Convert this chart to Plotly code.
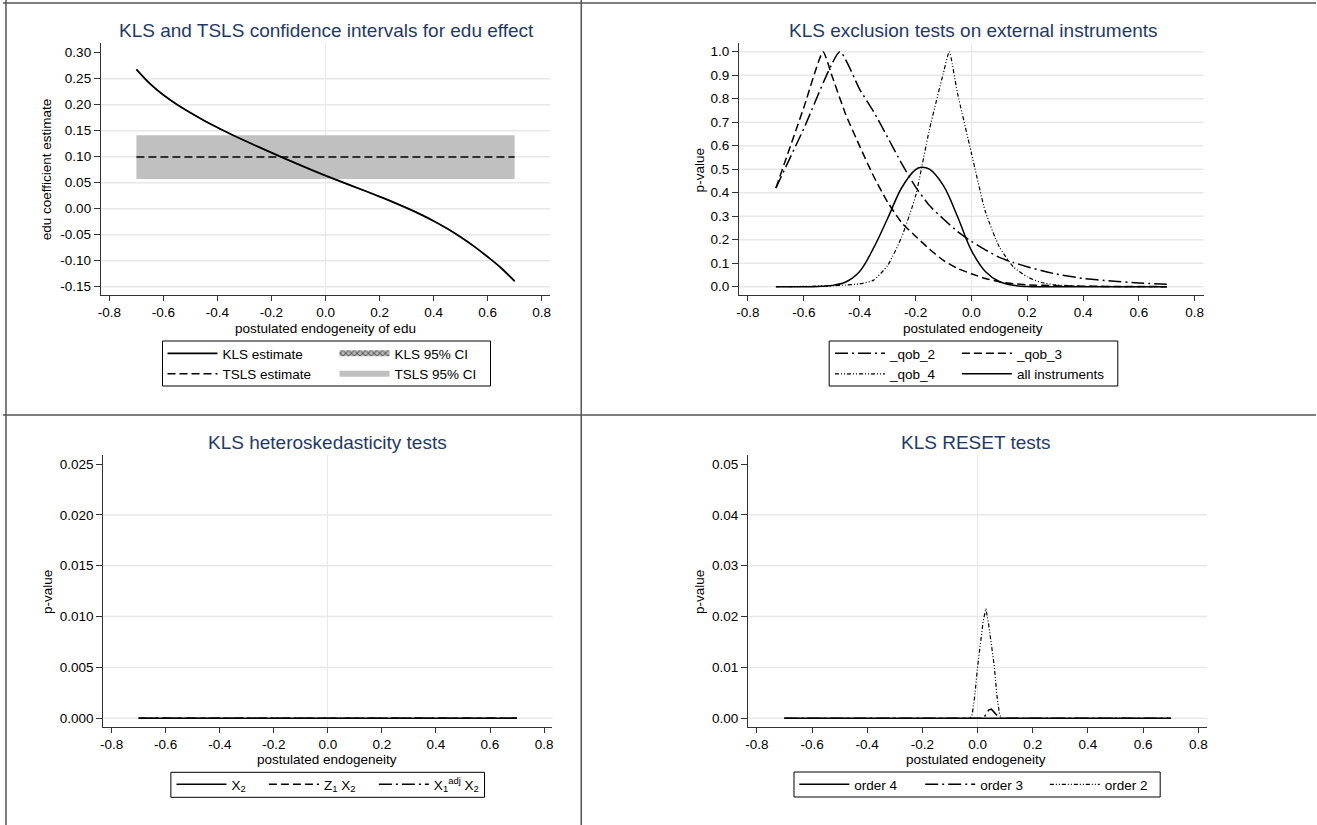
import plotly.graph_objects as go

W, H = 1317, 825
FONT = "Liberation Sans, Arial, sans-serif"
NAVY = "#1f3a68"
AX = "#333333"
GRID = "#e8e8e8"

# ---------------- data ----------------
# Panel 1: KLS and TSLS estimates
kls_x = [-0.70, -0.65, -0.60, -0.55, -0.50, -0.45, -0.40, -0.35, -0.30, -0.25, -0.20, -0.15, -0.10, -0.05,
         0.00, 0.05, 0.10, 0.15, 0.20, 0.25, 0.30, 0.35, 0.40, 0.45, 0.50, 0.55, 0.60, 0.65, 0.70]
kls_est = [0.2680, 0.2405, 0.2185, 0.2003, 0.1843, 0.1697, 0.1560, 0.1432, 0.1310, 0.1192, 0.1077, 0.0963,
           0.0851, 0.0742, 0.0637, 0.0535, 0.0435, 0.0335, 0.0233, 0.0127, 0.0015, -0.0105, -0.0236, -0.0381,
           -0.0544, -0.0725, -0.0925, -0.1140, -0.1395]
kls_ci_lo = [0.2665, 0.2390, 0.2170, 0.1988, 0.1828, 0.1682, 0.1545, 0.1417, 0.1295, 0.1177, 0.1062, 0.0948,
             0.0836, 0.0727, 0.0622, 0.0520, 0.0420, 0.0320, 0.0218, 0.0112, 0.0000, -0.0120, -0.0251, -0.0396,
             -0.0559, -0.0740, -0.0940, -0.1155, -0.1410]
kls_ci_hi = [0.2695, 0.2420, 0.2200, 0.2018, 0.1858, 0.1712, 0.1575, 0.1447, 0.1325, 0.1207, 0.1092, 0.0978,
             0.0866, 0.0757, 0.0652, 0.0550, 0.0450, 0.0350, 0.0248, 0.0142, 0.0030, -0.0090, -0.0221, -0.0366,
             -0.0529, -0.0710, -0.0910, -0.1125, -0.1380]
tsls_x = [-0.70, 0.70]
tsls_est = [0.0995, 0.0995]
tsls_lo = [0.057, 0.057]
tsls_hi = [0.141, 0.141]

# Panel 2: exclusion tests
qob2_x = [-0.70, -0.60, -0.471, -0.40, -0.35, -0.30, -0.25, -0.20, -0.15, -0.10, -0.05, 0.00, 0.05, 0.10,
          0.15, 0.20, 0.25, 0.30, 0.40, 0.50, 0.60, 0.70]
qob2_p = [0.42, 0.673, 1.0, 0.84, 0.745, 0.636, 0.525, 0.425, 0.345, 0.288, 0.235, 0.193, 0.157, 0.125,
          0.103, 0.085, 0.069, 0.055, 0.035, 0.024, 0.016, 0.010]
qob3_x = [-0.70, -0.60, -0.531, -0.50, -0.45, -0.40, -0.35, -0.30, -0.25, -0.20, -0.15, -0.10, -0.05, 0.00,
          0.05, 0.10, 0.15, 0.20, 0.30, 0.40, 0.50, 0.60, 0.70]
qob3_p = [0.42, 0.763, 1.0, 0.90, 0.733, 0.598, 0.47, 0.36, 0.273, 0.215, 0.16, 0.112, 0.078, 0.055,
          0.035, 0.021, 0.013, 0.008, 0.004, 0.002, 0.001, 0.001, 0.0]
qob4_x = [-0.70, -0.60, -0.50, -0.45, -0.40, -0.35, -0.30, -0.25, -0.20, -0.15, -0.10, -0.079, -0.05, 0.00,
          0.05, 0.10, 0.15, 0.20, 0.25, 0.30, 0.40, 0.50, 0.60, 0.70]
qob4_p = [0.0, 0.001, 0.004, 0.007, 0.012, 0.028, 0.09, 0.21, 0.385, 0.67, 0.91, 1.0, 0.826, 0.57,
          0.32, 0.17, 0.085, 0.042, 0.018, 0.008, 0.002, 0.001, 0.0, 0.0]
all_x = [-0.70, -0.60, -0.55, -0.50, -0.45, -0.40, -0.35, -0.30, -0.25, -0.20, -0.18, -0.15, -0.10, -0.05,
         0.00, 0.05, 0.10, 0.15, 0.20, 0.25, 0.30, 0.40, 0.50, 0.60, 0.70]
all_p = [0.0, 0.0, 0.001, 0.005, 0.02, 0.065, 0.165, 0.29, 0.42, 0.498, 0.508, 0.50, 0.43, 0.30,
         0.155, 0.065, 0.022, 0.006, 0.001, 0.0, 0.0, 0.0, 0.0, 0.0, 0.0]

# Panel 3: heteroskedasticity tests
het_x = [-0.7, -0.6, -0.5, -0.4, -0.3, -0.2, -0.1, 0.0, 0.1, 0.2, 0.3, 0.4, 0.5, 0.6, 0.7]
het_x2 = [0.0, 0.0, 0.0, 0.0, 0.0, 0.0, 0.0, 0.0, 0.0, 0.0, 0.0, 0.0, 0.0, 0.0, 0.0]
het_z1x2 = [0.0, 0.0, 0.0, 0.0, 0.0, 0.0, 0.0, 0.0, 0.0, 0.0, 0.0, 0.0, 0.0, 0.0, 0.0]
het_x1adjx2 = [0.0, 0.0, 0.0, 0.0, 0.0, 0.0, 0.0, 0.0, 0.0, 0.0, 0.0, 0.0, 0.0, 0.0, 0.0]

# Panel 4: RESET tests
ord4_x = [-0.7, -0.5, -0.3, -0.1, 0.0, 0.1, 0.3, 0.5, 0.7]
ord4_p = [0.0, 0.0, 0.0, 0.0, 0.0, 0.0, 0.0, 0.0, 0.0]
ord3_x = [-0.70, 0.00, 0.02, 0.03, 0.04, 0.05, 0.06, 0.07, 0.08, 0.70]
ord3_p = [0.0, 0.0, 0.0, 0.0007, 0.0016, 0.0018, 0.0012, 0.0004, 0.0, 0.0]
ord2_x = [-0.70, -0.03, -0.02, -0.01, 0.00, 0.01, 0.02, 0.03, 0.04, 0.05, 0.06, 0.07, 0.08, 0.09, 0.70]
ord2_p = [0.0, 0.0, 0.0005, 0.0045, 0.0101, 0.0150, 0.0190, 0.0216, 0.0185, 0.0145, 0.0105, 0.0045, 0.0006, 0.0, 0.0]

# ticks
x_ticks = [-0.8, -0.6, -0.4, -0.2, 0.0, 0.2, 0.4, 0.6, 0.8]
x_ticktext = ["-0.8", "-0.6", "-0.4", "-0.2", "0.0", "0.2", "0.4", "0.6", "0.8"]
y1_ticks = [-0.15, -0.10, -0.05, 0.00, 0.05, 0.10, 0.15, 0.20, 0.25, 0.30]
y1_text = ["-0.15", "-0.10", "-0.05", "0.00", "0.05", "0.10", "0.15", "0.20", "0.25", "0.30"]
y2_ticks = [0.0, 0.1, 0.2, 0.3, 0.4, 0.5, 0.6, 0.7, 0.8, 0.9, 1.0]
y2_text = ["0.0", "0.1", "0.2", "0.3", "0.4", "0.5", "0.6", "0.7", "0.8", "0.9", "1.0"]
y3_ticks = [0.0, 0.005, 0.010, 0.015, 0.020, 0.025]
y3_text = ["0.000", "0.005", "0.010", "0.015", "0.020", "0.025"]
y4_ticks = [0.0, 0.01, 0.02, 0.03, 0.04, 0.05]
y4_text = ["0.00", "0.01", "0.02", "0.03", "0.04", "0.05"]

# ---------------- figure ----------------
fig = go.Figure()

LW = 1.5
DASH = "8px,4px"
LONGDASHDOT = "13px,4px,2px,4px"
DASHDOTDOT = "4px,2px,1px,2px,1px,2px"

# Panel 1
fig.add_trace(go.Scatter(x=tsls_x + tsls_x[::-1], y=tsls_hi + tsls_lo[::-1], fill="toself",
                         fillcolor="#c0c0c0", mode="none", name="TSLS 95% CI",
                         legend="legend2", legendrank=2, xaxis="x", yaxis="y"))
fig.add_trace(go.Scatter(x=kls_x + kls_x[::-1], y=kls_ci_hi + kls_ci_lo[::-1], fill="toself",
                         fillcolor="#8c8c8c", mode="none", name="KLS 95% CI",
                         fillpattern=dict(shape="x", fgcolor="#000000", bgcolor="#bdbdbd", size=4, solidity=0.45),
                         legend="legend2", legendrank=1, xaxis="x", yaxis="y"))
fig.add_trace(go.Scatter(x=tsls_x, y=tsls_est, mode="lines", name="TSLS estimate",
                         line=dict(color="black", width=LW, dash=DASH),
                         legend="legend", legendrank=2, xaxis="x", yaxis="y"))
fig.add_trace(go.Scatter(x=kls_x, y=kls_est, mode="lines", name="KLS estimate",
                         line=dict(color="black", width=LW + 0.3, shape="spline", smoothing=1),
                         legend="legend", legendrank=1, xaxis="x", yaxis="y"))

# Panel 2
fig.add_trace(go.Scatter(x=qob2_x, y=qob2_p, mode="lines", name="_qob_2",
                         line=dict(color="black", width=LW, dash=LONGDASHDOT, shape="spline", smoothing=0.5),
                         legend="legend3", legendrank=1, xaxis="x2", yaxis="y2"))
fig.add_trace(go.Scatter(x=qob3_x, y=qob3_p, mode="lines", name="_qob_3",
                         line=dict(color="black", width=LW, dash=DASH, shape="spline", smoothing=0.5),
                         legend="legend4", legendrank=1, xaxis="x2", yaxis="y2"))
fig.add_trace(go.Scatter(x=qob4_x, y=qob4_p, mode="lines", name="_qob_4",
                         line=dict(color="black", width=1.2, dash=DASHDOTDOT, shape="spline", smoothing=0.5),
                         legend="legend3", legendrank=2, xaxis="x2", yaxis="y2"))
fig.add_trace(go.Scatter(x=all_x, y=all_p, mode="lines", name="all instruments",
                         line=dict(color="black", width=LW, shape="spline", smoothing=1),
                         legend="legend4", legendrank=2, xaxis="x2", yaxis="y2"))

# Panel 3
fig.add_trace(go.Scatter(x=het_x, y=het_x2, mode="lines", name="X<sub>2</sub>",
                         line=dict(color="black", width=LW), legend="legend5", xaxis="x3", yaxis="y3"))
fig.add_trace(go.Scatter(x=het_x, y=het_z1x2, mode="lines", name="Z<sub>1</sub> X<sub>2</sub>",
                         line=dict(color="black", width=LW, dash=DASH), legend="legend6", xaxis="x3", yaxis="y3"))
fig.add_trace(go.Scatter(x=het_x, y=het_x1adjx2, mode="lines", name="X<sub>1</sub><sup>adj</sup> X<sub>2</sub>",
                         line=dict(color="black", width=LW, dash=LONGDASHDOT), legend="legend7", xaxis="x3", yaxis="y3"))

# Panel 4
fig.add_trace(go.Scatter(x=ord4_x, y=ord4_p, mode="lines", name="order 4",
                         line=dict(color="black", width=LW), legend="legend8", xaxis="x4", yaxis="y4"))
fig.add_trace(go.Scatter(x=ord3_x, y=ord3_p, mode="lines", name="order 3",
                         line=dict(color="black", width=LW, dash=LONGDASHDOT), legend="legend9", xaxis="x4", yaxis="y4"))
fig.add_trace(go.Scatter(x=ord2_x, y=ord2_p, mode="lines", name="order 2",
                         line=dict(color="black", width=1.2, dash=DASHDOTDOT), legend="legend10", xaxis="x4", yaxis="y4"))


def px_x(v):
    return v / W


def px_y(v):
    return 1 - v / H


def xaxis(domain, rng, anchor):
    return dict(domain=domain, range=rng, anchor=anchor, tickmode="array", tickvals=x_ticks,
                ticktext=x_ticktext, showgrid=False, zeroline=True, zerolinecolor=GRID, zerolinewidth=1.3,
                showline=True, linecolor=AX, linewidth=1.3, ticks="outside", ticklen=5, tickwidth=1.3,
                tickcolor=AX, tickfont=dict(family=FONT, size=13.5, color="black"), fixedrange=True)


def yaxis(domain, rng, anchor, tv, tt):
    return dict(domain=domain, range=rng, anchor=anchor, tickmode="array", tickvals=tv, ticktext=tt,
                showgrid=False, zeroline=False, showline=True, linecolor=AX, linewidth=1.3,
                ticks="outside", ticklen=6, tickwidth=1.3, tickcolor=AX,
                tickfont=dict(family=FONT, size=13.5, color="black"), fixedrange=True)


TOP_Y = [px_y(295), px_y(43.3)]
BOT_Y = [px_y(726.7), px_y(455)]

layout = dict(
    width=W, height=H, margin=dict(l=0, r=0, t=0, b=0), autosize=False,
    paper_bgcolor="white", plot_bgcolor="rgba(0,0,0,0)",
    font=dict(family=FONT, size=13.5, color="black"),
    xaxis=xaxis([px_x(98.3), px_x(548.7)], [-0.831, 0.831], "y"),
    yaxis=yaxis(TOP_Y, [-0.166, 0.318], "x", y1_ticks, y1_text),
    xaxis2=xaxis([px_x(738.3), px_x(1204.3)], [-0.832, 0.832], "y2"),
    yaxis2=yaxis(TOP_Y, [-0.0353, 1.0357], "x2", y2_ticks, y2_text),
    xaxis3=xaxis([px_x(100.6), px_x(551.1)], [-0.831, 0.831], "y3"),
    yaxis3=yaxis(BOT_Y, [-0.000826, 0.02589], "x3", y3_ticks, y3_text),
    xaxis4=xaxis([px_x(747.3), px_x(1207.8)], [-0.832, 0.832], "y4"),
    yaxis4=yaxis(BOT_Y, [-0.00165, 0.05177], "x4", y4_ticks, y4_text),
)

# one legend per legend column (Stata-style boxed key drawn around them)
legend_common = dict(orientation="v", xanchor="left", yanchor="top", borderwidth=0,
                     bgcolor="rgba(0,0,0,0)", font=dict(family=FONT, size=13.5, color="black"),
                     itemwidth=50, itemclick=False, itemdoubleclick=False, traceorder="normal")
legend_pos = {"legend": (160, 338), "legend2": (332.5, 338),
              "legend3": (829.5, 338), "legend4": (956.8, 338),
              "legend5": (169, 769), "legend6": (261.7, 769), "legend7": (372, 769),
              "legend8": (793.7, 769), "legend9": (920, 769), "legend10": (1045, 769)}
for name, (lx, ly) in legend_pos.items():
    layout[name] = dict(legend_common, x=px_x(lx), y=px_y(ly))

fig.update_layout(**layout)

# gridlines (the top tick has none, as in the original, except the p-value panel)
for xa, ya, tv in [("x", "y", y1_ticks), ("x2", "y2", y2_ticks), ("x3", "y3", y3_ticks), ("x4", "y4", y4_ticks)]:
    vals = tv if ya == "y2" else tv[:-1]
    for v in vals:
        fig.add_shape(type="line", xref=f"{xa} domain", yref=ya, x0=0, x1=1, y0=v, y1=v,
                      line=dict(color=GRID, width=1.5), layer="below")

# titles and axis titles
ann = []
titles = [("KLS and TSLS confidence intervals for edu effect", 324.5, 30),
          ("KLS exclusion tests on external instruments", 973, 30),
          ("KLS heteroskedasticity tests", 325, 442.7),
          ("KLS RESET tests", 976, 442.7)]
for t, cx, cy in titles:
    ann.append(dict(text=t, x=px_x(cx), y=px_y(cy), xref="paper", yref="paper", showarrow=False,
                    xanchor="center", yanchor="middle", font=dict(family=FONT, size=19, color=NAVY)))
xtitles = [("postulated endogeneity of edu", 323.4, 328.5), ("postulated endogeneity", 973, 328.5),
           ("postulated endogeneity", 325.3, 759.5), ("postulated endogeneity", 976, 759.5)]
for t, cx, cy in xtitles:
    ann.append(dict(text=t, x=px_x(cx), y=px_y(cy), xref="paper", yref="paper", showarrow=False,
                    xanchor="center", yanchor="middle", font=dict(family=FONT, size=13.5, color="black")))
ytitles = [("edu coefficient estimate", 43.5, 169), ("p-value", 698.5, 170),
           ("p-value", 44.5, 591.7), ("p-value", 698.5, 591.7)]
for t, cx, cy in ytitles:
    ann.append(dict(text=t, x=px_x(cx), y=px_y(cy), xref="paper", yref="paper", showarrow=False,
                    textangle=-90, xanchor="center", yanchor="middle",
                    font=dict(family=FONT, size=13.5, color="black")))
fig.update_layout(annotations=ann)

# legend key boxes
for x0, y0, x1, y1 in [(160, 341, 489, 386), (828.7, 341, 1118.2, 386),
                       (168.4, 772.3, 483, 797.3), (793.4, 772, 1160.7, 797)]:
    fig.add_shape(type="rect", xref="paper", yref="paper", x0=px_x(x0), x1=px_x(x1), y0=px_y(y1), y1=px_y(y0),
                  line=dict(color="black", width=1), fillcolor="rgba(0,0,0,0)")

# panel borders
BORDER = "#555555"
for x0 in [3, 580]:
    fig.add_shape(type="line", xref="paper", yref="paper", x0=px_x(x0), x1=px_x(x0), y0=0, y1=1,
                  line=dict(color=BORDER, width=1.5))
for y0 in [3, 415]:
    fig.add_shape(type="line", xref="paper", yref="paper", x0=0, x1=1, y0=px_y(y0), y1=px_y(y0),
                  line=dict(color=BORDER, width=1.5))

fig.write_html("out.html")
